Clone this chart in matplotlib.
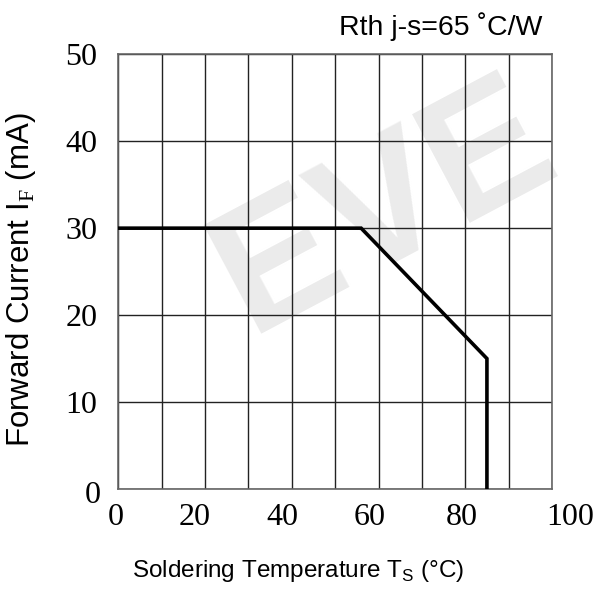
import matplotlib
matplotlib.use("Agg")
import matplotlib.pyplot as plt
import matplotlib.transforms as mtransforms

# derating curve: forward current vs soldering temperature
temp_c = [0, 56, 85, 85]
current_ma = [30, 30, 15, 0]

x_ticks = [0, 20, 40, 60, 80, 100]
y_ticks = [0, 10, 20, 30, 40, 50]
x_tick_labels = ["0", "20", "40", "60", "80", "100"]
y_tick_labels = ["0", "10", "20", "30", "40", "50"]

plt.rcParams['mathtext.fontset'] = 'custom'
plt.rcParams['mathtext.rm'] = 'Liberation Serif'
plt.rcParams['mathtext.sf'] = 'Liberation Sans'

fig = plt.figure(figsize=(5.95, 5.90), dpi=100)
ax = fig.add_axes([0.1988, 0.1712, 0.7289, 0.7368])
ax.set_facecolor('none')

# faint company watermark behind the plot
fig.text(385 / 595, 1 - 210 / 590, "EVE", fontsize=128, fontweight='bold', color='#ebebeb',
         rotation=28, ha='center', va='center', family='Liberation Sans', zorder=-1)

ax.plot(temp_c, current_ma, color='black', lw=2.6, solid_joinstyle='miter', zorder=3)

ax.set_xlim(0, 100)
ax.set_ylim(0, 50)
ax.set_xticks(x_ticks)
ax.set_xticklabels(x_tick_labels)
ax.set_xticks(range(0, 101, 10), minor=True)
ax.set_yticks(y_ticks)
ax.set_yticklabels(y_tick_labels)
ax.grid(which='both', color='#222222', lw=1.0)
ax.tick_params(which='both', length=0)
ax.tick_params(axis='x', pad=10)
ax.tick_params(axis='y', pad=15)
for spine in ax.spines.values():
    spine.set_color('#666666')
    spine.set_linewidth(1.2)

for lbl in ax.get_xticklabels() + ax.get_yticklabels():
    lbl.set_fontfamily('Liberation Serif')
    lbl.set_fontsize(23)

# hand-tuned label nudges (pixels)
x_shift = [-3, -10, -9, -9, -3, 18]
for lbl, dx in zip(ax.get_xticklabels(), x_shift):
    lbl.set_transform(lbl.get_transform() + mtransforms.ScaledTranslation(dx / 100, 0, fig.dpi_scale_trans))
y0 = ax.get_yticklabels()[0]
y0.set_transform(y0.get_transform() + mtransforms.ScaledTranslation(3 / 100, -3 / 100, fig.dpi_scale_trans))

fig.text(542 / 595, 1 - 35 / 590, "Rth j-s=65 \u02daC/W", ha='right', va='baseline',
         fontsize=20.5, family='Liberation Sans')
fig.text(298 / 595, 1 - 577 / 590, r"Soldering Temperature T$_\mathsf{S}$ (°C)", ha='center',
         va='baseline', fontsize=17.5, family='Liberation Sans')
fig.text(21 / 595, 1 - 280 / 590, r"Forward Current I$_\mathrm{F}$ (mA)", ha='center',
         va='center', rotation=90, fontsize=22.5, family='Liberation Sans')

fig.savefig("out.png", dpi=100)
